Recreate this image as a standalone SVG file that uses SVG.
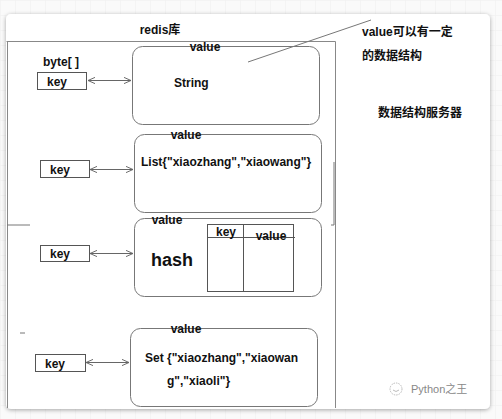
<svg xmlns="http://www.w3.org/2000/svg" width="502" height="419" viewBox="0 0 502 419">
<defs>
<pattern id="grid" width="15" height="15" patternUnits="userSpaceOnUse">
<path d="M15 0H0V15" fill="none" stroke="#eeeeee" stroke-width="1"/>
</pattern>
<filter id="sh" x="-5%" y="-5%" width="110%" height="110%">
<feDropShadow dx="0" dy="1" stdDeviation="2" flood-color="#000" flood-opacity="0.35"/>
</filter>
<marker id="ah" viewBox="0 0 10 10" refX="9" refY="5" markerWidth="8" markerHeight="8" orient="auto-start-reverse" markerUnits="userSpaceOnUse">
<path d="M0 1L9 5L0 9" fill="none" stroke="#666" stroke-width="1.2"/>
</marker>
</defs>
<style>
text{font-family:"Liberation Sans","Noto Sans CJK SC",Arial,sans-serif;font-weight:bold;font-size:12px;fill:#111}
.vbox{fill:#fff;stroke:#777;stroke-width:1}
.kbox{fill:#fff;stroke:#555;stroke-width:1}
.ln{stroke:#888;stroke-width:1;fill:none}
.arr{stroke:#666;stroke-width:1;fill:none;marker-start:url(#ah);marker-end:url(#ah)}
.wm{font-weight:normal;font-size:11px;fill:#888}
</style>
<rect width="502" height="419" fill="#fafafa"/>
<rect width="502" height="419" fill="url(#grid)"/>
<rect x="6" y="14" width="484" height="395" rx="5" fill="#fff" filter="url(#sh)"/>

<g id="frame">
<path class="ln" d="M6.5 41.5H335.5V408M7.5 41.5V408"/>
<path d="M334 162V225H331" stroke="#777" stroke-width="1" fill="none"/>
<path d="M7 225H30" stroke="#777" stroke-width="1"/>
<path d="M20 333H25" stroke="#777" stroke-width="1"/>
<text x="160" y="34" text-anchor="middle">redis库</text>
</g>

<g id="key1">
<text x="43" y="66">byte[ ]</text>
<rect class="kbox" x="37.5" y="72.5" width="49" height="17"/>
<text x="47" y="86">key</text>
</g>
<g id="value-string">
<rect class="vbox" x="132.5" y="46.5" width="187" height="78" rx="10"/>
<text x="205" y="51" text-anchor="middle">value</text>
<text x="174" y="87">String</text>
</g>

<g id="key2">
<rect class="kbox" x="40.5" y="160.5" width="49" height="17"/>
<text x="50" y="174">key</text>
</g>
<g id="value-list">
<rect class="vbox" x="134.5" y="134.5" width="187" height="78" rx="10"/>
<text x="186" y="139" text-anchor="middle">value</text>
<text x="141" y="166">List{"xiaozhang","xiaowang"}</text>
</g>

<g id="key3">
<rect class="kbox" x="40.5" y="245.5" width="49" height="16"/>
<text x="50" y="258">key</text>
</g>
<g id="value-hash">
<rect class="vbox" x="134.5" y="218.5" width="187" height="78" rx="10"/>
<text x="167" y="224" text-anchor="middle">value</text>
<text x="151" y="266" style="font-size:18px">hash</text>
<rect x="207.5" y="224.5" width="86" height="67" fill="none" stroke="#555" stroke-width="1"/>
<path d="M243.5 224.5V291.5M207.5 237.5H295" stroke="#555" stroke-width="1" fill="none"/>
<text x="226" y="236" text-anchor="middle">key</text>
<text x="271" y="240" text-anchor="middle">value</text>
</g>

<g id="key4">
<rect class="kbox" x="35.5" y="354.5" width="50" height="17"/>
<text x="45" y="368">key</text>
</g>
<g id="value-set">
<rect class="vbox" x="130.5" y="328.5" width="187" height="78" rx="10"/>
<text x="186" y="333" text-anchor="middle">value</text>
<text x="145" y="362">Set {"xiaozhang","xiaowan</text>
<text x="167" y="385">g","xiaoli"}</text>
</g>

<g id="notes">
<text x="362" y="36">value可以有一定</text>
<text x="362" y="60">的数据结构</text>
<text x="378" y="117">数据结构服务器</text>
</g>

<g id="connectors">
<line class="arr" x1="88" y1="80.5" x2="131" y2="80.5"/>
<line class="arr" x1="90" y1="169.5" x2="133" y2="169.5"/>
<line class="arr" x1="90" y1="253.5" x2="133" y2="253.5"/>
<line class="arr" x1="86" y1="362.5" x2="129" y2="362.5"/>
<line x1="248" y1="62" x2="371" y2="20" stroke="#777" stroke-width="1"/>
</g>

<g id="watermark">
<circle cx="396" cy="389" r="6" fill="none" stroke="#aaa" stroke-width="0.8" stroke-dasharray="1.5 1"/>
<path d="M393 390Q396 393 399 390" fill="none" stroke="#aaa" stroke-width="0.8"/>
<text class="wm" x="411" y="393">Python之王</text>
</g>
</svg>
